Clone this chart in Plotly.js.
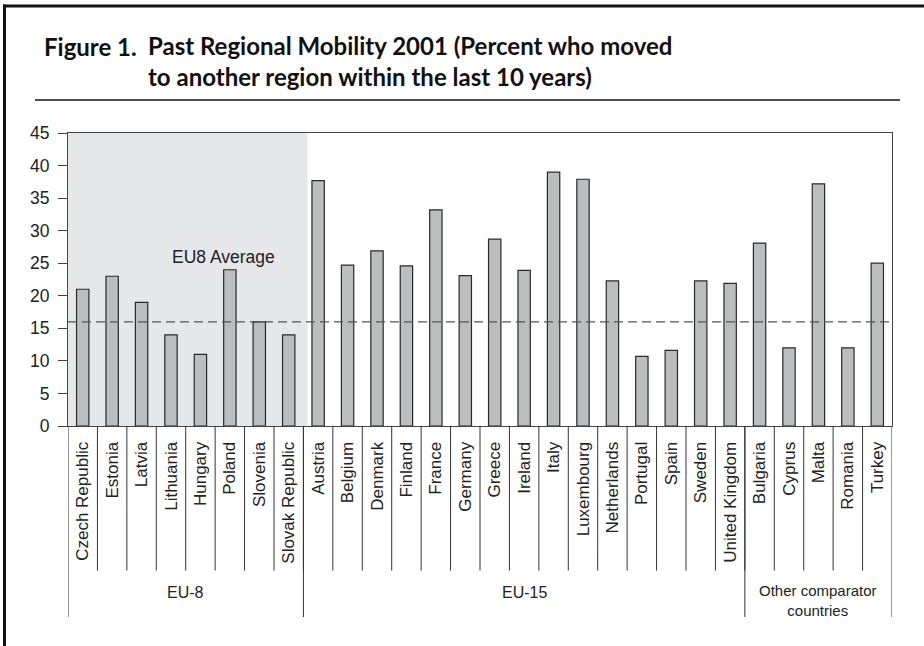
<!DOCTYPE html>
<html>
<head>
<meta charset="utf-8">
<script src="https://cdn.plot.ly/plotly-3.0.1.min.js"></script>
<style>
  html, body { margin: 0; padding: 0; background: #ffffff; }
  #chart { width: 924px; height: 646px; }
</style>
</head>
<body>
<div id="chart"></div>
<script>
// ---- data ----
const countries = [
  "Czech Republic", "Estonia", "Latvia", "Lithuania", "Hungary", "Poland", "Slovenia", "Slovak Republic",
  "Austria", "Belgium", "Denmark", "Finland", "France", "Germany", "Greece", "Ireland", "Italy",
  "Luxembourg", "Netherlands", "Portugal", "Spain", "Sweden", "United Kingdom",
  "Bulgaria", "Cyprus", "Malta", "Romania", "Turkey"
];
const mobility = [
  21, 23, 19, 14, 11, 24, 16, 14,
  37.7, 24.7, 26.9, 24.6, 33.2, 23.1, 28.7, 23.9, 39.0,
  37.9, 22.3, 10.7, 11.6, 22.3, 21.9,
  28.1, 12.0, 37.2, 12.0, 25.0
];
const groupNames = ["EU-8", "EU-15", "Other comparator<br>countries"];
const groupSizes = [8, 15, 5];
const eu8Average = 16;
const eu8AverageLabel = "EU8 Average";
const yTicks = [0, 5, 10, 15, 20, 25, 30, 35, 40, 45];
const titleLead = "Figure 1.";
const titleLine1 = "Past Regional Mobility 2001 (Percent who moved";
const titleLine2 = "to another region within the last 10 years)";

// ---- layout helpers (pixel geometry -> paper) ----
const W = 924, H = 646;
const M = { l: 68, r: 32, t: 133, b: 220 };
const PW = W - M.l - M.r, PH = H - M.t - M.b;
const px = x => (x - M.l) / PW;
const py = y => (H - M.b - y) / PH;

const FONT = "Liberation Sans, Arial, Helvetica, sans-serif";
const TFONT = "Lato, Liberation Sans, Arial, sans-serif";

const shapes = [];
const annotations = [];

// shaded EU-8 background
shapes.push({
  type: "rect", xref: "x", yref: "paper", layer: "below",
  x0: -0.5, x1: groupSizes[0] - 0.5 + 0.14, y0: 0, y1: 1,
  fillcolor: "#e6e7e8", line: { width: 0 }
});

// EU8 average dashed line
shapes.push({
  type: "line", xref: "paper", yref: "y", layer: "above",
  x0: 0, x1: 1.002, y0: eu8Average, y1: eu8Average,
  line: { color: "#555555", width: 1.2, dash: "9px,5px" }
});

// category separators below the axis
for (let i = 1; i < countries.length; i++) {
  shapes.push({
    type: "line", xref: "x", yref: "paper",
    x0: i - 0.5, x1: i - 0.5, y0: 0, y1: py(570.5),
    line: { color: "#333333", width: 1 }
  });
}
// group boundaries
let acc = 0;
const bounds = [-0.5];
groupSizes.forEach(n => { acc += n; bounds.push(acc - 0.5); });
bounds.forEach(b => {
  shapes.push({
    type: "line", xref: "x", yref: "paper",
    x0: b, x1: b, y0: 0, y1: py(617),
    line: { color: "#333333", width: 1 }
  });
});
// group labels
let start = 0;
groupSizes.forEach((n, gi) => {
  const center = start + (n - 1) / 2;
  annotations.push({
    xref: "x", yref: "paper", x: center,
    y: gi === 2 ? py(600.5) : py(592),
    text: groupNames[gi], showarrow: false,
    font: { family: FONT, size: gi === 2 ? 15 : 16, color: "#222222" },
    align: "center", xanchor: "center", yanchor: "middle"
  });
  start += n;
});

// EU8 Average label
annotations.push({
  xref: "x", yref: "y", x: 4.8, y: 26,
  text: eu8AverageLabel, showarrow: false,
  font: { family: FONT, size: 17.5, color: "#222222" },
  xanchor: "center", yanchor: "middle"
});

// outer frame (left and top)
shapes.push({
  type: "line", xref: "paper", yref: "paper",
  x0: px(4.5), x1: px(4.5), y0: py(4.5), y1: py(652),
  line: { color: "#111111", width: 3 }
});
shapes.push({
  type: "line", xref: "paper", yref: "paper",
  x0: px(3), x1: px(930), y0: py(6), y1: py(6),
  line: { color: "#111111", width: 3 }
});
// title rule
shapes.push({
  type: "line", xref: "paper", yref: "paper",
  x0: px(35), x1: px(900), y0: py(100), y1: py(100),
  line: { color: "#111111", width: 1.6 }
});

// title texts
annotations.push({
  xref: "paper", yref: "paper", x: px(42), y: py(46),
  text: "<b>" + titleLead + "</b>", showarrow: false,
  font: { family: TFONT, size: 24, color: "#111111" },
  xanchor: "left", yanchor: "middle"
});
annotations.push({
  xref: "paper", yref: "paper", x: px(146), y: py(61),
  text: "<b>" + titleLine1 + "<br>" + titleLine2 + "</b>", showarrow: false,
  font: { family: TFONT, size: 24, color: "#111111" },
  align: "left", xanchor: "left", yanchor: "middle"
});

const trace = {
  type: "bar",
  x: countries,
  y: mobility,
  width: 0.42,
  marker: { color: "#bcbdbf", line: { color: "#2a2a2a", width: 1.2 } },
  hoverinfo: "x+y"
};

const layout = {
  width: W, height: H,
  margin: M,
  paper_bgcolor: "#ffffff",
  plot_bgcolor: "rgba(0,0,0,0)",
  showlegend: false,
  xaxis: {
    type: "category",
    range: [-0.5, countries.length - 0.5],
    tickangle: -90,
    ticks: "",
    ticklabelstandoff: 8,
    tickfont: { family: FONT, size: 17, color: "#222222" },
    showline: true, mirror: true, linecolor: "#444444", linewidth: 1,
    showgrid: false, zeroline: false, fixedrange: true
  },
  yaxis: {
    range: [0, 45],
    tickvals: yTicks,
    ticktext: yTicks.map(String),
    ticks: "outside", ticklen: 9, tickcolor: "#444444", tickwidth: 1,
    ticklabelstandoff: 5,
    tickfont: { family: FONT, size: 17.5, color: "#222222" },
    showline: true, mirror: true, linecolor: "#444444", linewidth: 1,
    showgrid: false, zeroline: false, fixedrange: true
  },
  shapes: shapes,
  annotations: annotations
};

Plotly.newPlot("chart", [trace], layout, { displayModeBar: false, staticPlot: true });
</script>
</body>
</html>
